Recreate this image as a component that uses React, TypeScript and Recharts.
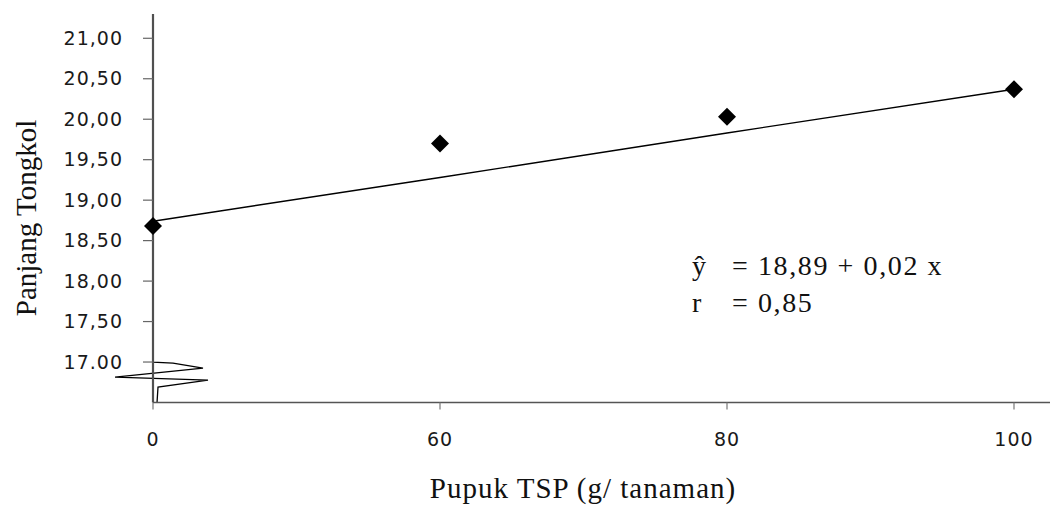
import React from 'react';
import { ComposedChart, Line, XAxis, YAxis, ReferenceLine } from 'recharts';

const categories = ['0', '60', '80', '100'];
const observed = [18.68, 19.7, 20.03, 20.37];
const trend = [18.74, 19.28, 19.83, 20.37];
const yTicks = [17, 17.5, 18, 18.5, 19, 19.5, 20, 20.5, 21];
const yTickLabels = ['17.00', '17,50', '18,00', '18,50', '19,00', '19,50', '20,00', '20,50', '21,00'];

const data = categories.map((c, i) => ({ x: c, obs: observed[i], fit: trend[i] }));

const Diamond = (props: any) => {
  const { cx, cy } = props;
  if (cx == null || cy == null) return null;
  const r = 9;
  return <polygon points={`${cx},${cy - r} ${cx + r},${cy} ${cx},${cy + r} ${cx - r},${cy}`} fill="#000" />;
};

const AxisBreak = (props: any) => {
  const { x1, y1 } = props;
  if (x1 == null || y1 == null) return null;
  const p = (dx: number, dy: number) => `${x1 + dx},${y1 + dy}`;
  return (
    <g>
      <rect x={x1 - 3} y={y1 - 14} width={7} height={52} fill="#fff" />
      <polyline
        points={[p(0, -14), p(0, 0), p(20, 1), p(50, 6), p(-38, 15), p(55, 18), p(5, 25), p(4, 41)].join(' ')}
        fill="none"
        stroke="#000"
        strokeWidth={1.3}
      />
    </g>
  );
};

const tickStyle = { fontFamily: 'DejaVu Sans', fontSize: 19, fill: '#1a1a1a', letterSpacing: 1 };
const serif = 'Liberation Serif';

export default function App() {
  return (
    <div style={{ position: 'absolute', left: 0, top: 0, width: 1050, height: 506, background: '#fff' }}>
      <ComposedChart width={1050} height={506} data={data} margin={{ top: 14, right: 0, bottom: 3, left: 0 }}>
        <XAxis
          dataKey="x"
          type="category"
          scale="point"
          padding={{ left: 0, right: 36 }}
          height={100.5}
          tickSize={7}
          tickMargin={23}
          axisLine={{ stroke: '#555', strokeWidth: 1.5 }}
          tickLine={{ stroke: '#777', strokeWidth: 1.2 }}
          tick={tickStyle}
        />
        <YAxis
          type="number"
          domain={[16.5, 21.3]}
          ticks={yTicks}
          width={153}
          tickSize={10}
          tickMargin={20}
          interval={0}
          allowDataOverflow
          axisLine={{ stroke: '#505050', strokeWidth: 2.2 }}
          tickLine={{ stroke: '#666', strokeWidth: 1.2 }}
          tick={tickStyle}
          tickFormatter={(v: number) => yTickLabels[yTicks.indexOf(v)] ?? String(v)}
        />
        <ReferenceLine y={17} shape={AxisBreak} ifOverflow="visible" />
        <Line dataKey="fit" stroke="#000" strokeWidth={1.4} dot={false} isAnimationActive={false} />
        <Line dataKey="obs" stroke="none" dot={<Diamond />} activeDot={false} isAnimationActive={false} />
      </ComposedChart>
      <svg width={1050} height={506} style={{ position: 'absolute', left: 0, top: 0, pointerEvents: 'none' }}>
        <text x={583} y={498} textAnchor="middle" fontFamily={serif} fontSize={29} letterSpacing={1} fill="#111">
          Pupuk TSP (g/ tanaman)
        </text>
        <text transform="translate(36,218) rotate(-90)" textAnchor="middle" fontFamily={serif} fontSize={29} fill="#111">
          Panjang Tongkol
        </text>
        <text x={692} y={275} fontFamily={serif} fontSize={28} fill="#111">ŷ</text>
        <text x={732} y={275} fontFamily={serif} fontSize={28} letterSpacing={1.6} fill="#111">= 18,89 + 0,02 x</text>
        <text x={692} y={312} fontFamily={serif} fontSize={28} fill="#111">r</text>
        <text x={732} y={312} fontFamily={serif} fontSize={28} letterSpacing={1.6} fill="#111">= 0,85</text>
      </svg>
    </div>
  );
}
